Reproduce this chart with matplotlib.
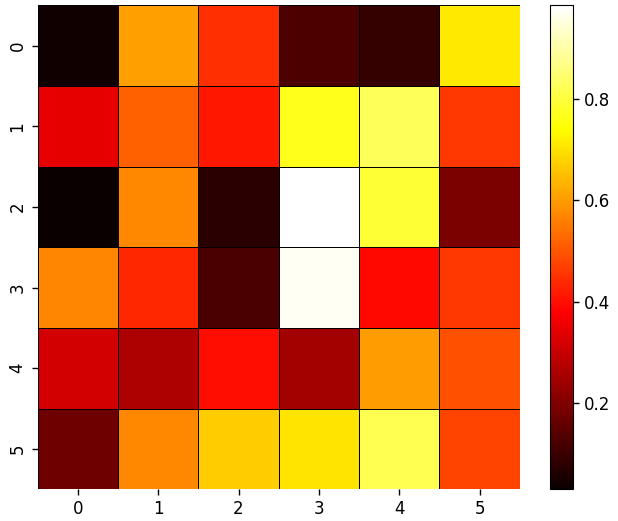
import matplotlib
matplotlib.use("Agg")
import matplotlib.pyplot as plt
import seaborn as sns
import numpy as np

row_labels = ["0", "1", "2", "3", "4", "5"]
col_labels = ["0", "1", "2", "3", "4", "5"]
row0 = [0.040, 0.607, 0.447, 0.126, 0.093, 0.710]
row1 = [0.347, 0.515, 0.413, 0.765, 0.826, 0.459]
row2 = [0.030, 0.572, 0.077, 0.985, 0.794, 0.194]
row3 = [0.569, 0.436, 0.123, 0.971, 0.390, 0.459]
row4 = [0.315, 0.262, 0.396, 0.249, 0.601, 0.493]
row5 = [0.172, 0.572, 0.670, 0.704, 0.819, 0.476]

data = np.array([row0, row1, row2, row3, row4, row5])

fig = plt.figure(figsize=(6.18, 5.21), dpi=100)
ax = fig.add_axes([0.061, 0.061, 0.780, 0.929])
cax = fig.add_axes([0.890, 0.061, 0.037, 0.929])
sns.heatmap(data, cmap="hot", linewidths=0.7, linecolor="black",
            xticklabels=col_labels, yticklabels=row_labels,
            ax=ax, cbar_ax=cax)
cbar = ax.collections[0].colorbar
cbar.outline.set_linewidth(0.8)
cbar.outline.set_edgecolor("black")
ax.tick_params(axis="y", labelrotation=90)
ax.tick_params(labelsize=12, length=4.5, width=1.0)
cax.tick_params(labelsize=12, length=4.5, width=1.0)
fig.savefig("out.png", dpi=100)
